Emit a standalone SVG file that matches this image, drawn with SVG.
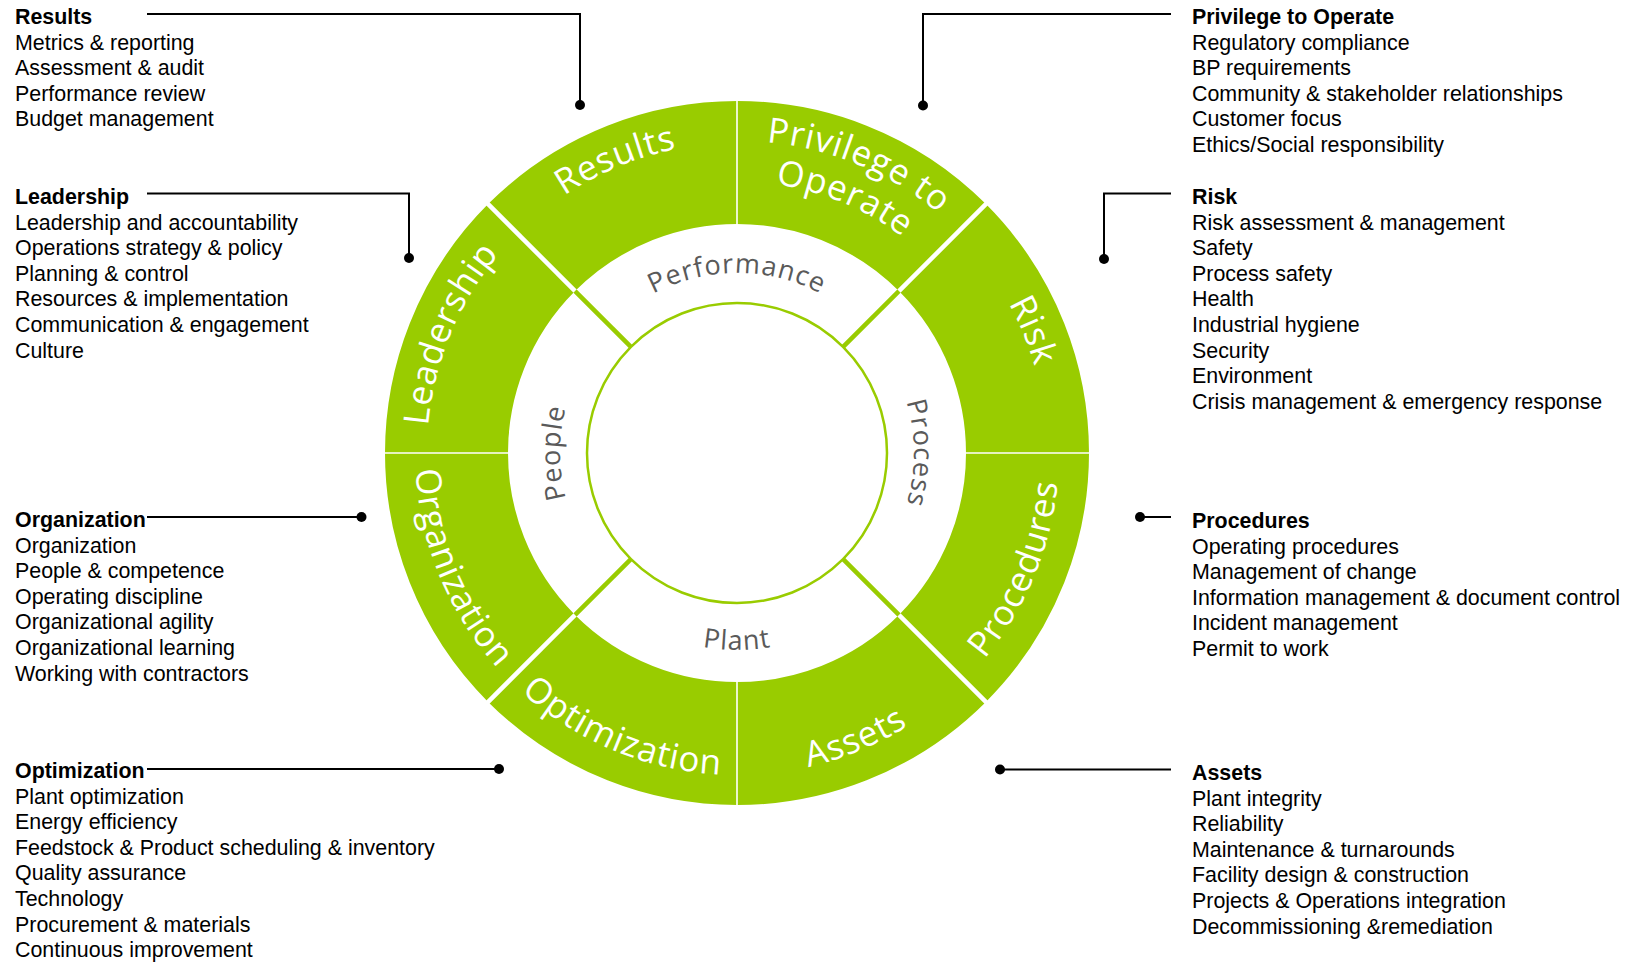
<svg xmlns="http://www.w3.org/2000/svg" width="1639" height="962" viewBox="0 0 1639 962">
<style>
.lst{font-family:"Liberation Sans",Arial,sans-serif;font-size:21.4px;fill:#000}
.ttl{font-weight:bold}
.ring{font-family:"Open Sans","Liberation Sans",sans-serif;font-size:35px;fill:#fff;letter-spacing:0.8px}
.band{font-family:"Open Sans","Liberation Sans",sans-serif;font-size:27px;fill:#5a5a5a;letter-spacing:1px}
.conn{fill:none;stroke:#000;stroke-width:2}
.dot{fill:#000}
.gap{stroke:#fff;stroke-width:4.5}
.thin{stroke:#fff;stroke-width:1.6}
.spoke{stroke:#99cc00;stroke-width:4.5}
</style>
<defs>
<path id="pResults" d="M517.8,233.8 A310,310 0 0 1 737,143"/>
<path id="pPriv1" d="M739,141 A312,312 0 0 1 959.6,232.4"/>
<path id="pPriv2" d="M739,182 A271,271 0 0 1 930.6,261.4"/>
<path id="pRisk" d="M956.2,233.8 A310,310 0 0 1 1047,453"/>
<path id="pLead" d="M427,453 A310,310 0 0 1 517.8,233.8"/>
<path id="pProc" d="M964.7,680.7 A322,322 0 0 0 1059,453"/>
<path id="pAssets" d="M737,775 A322,322 0 0 0 964.7,680.7"/>
<path id="pOpt" d="M509.3,680.7 A322,322 0 0 0 737,775"/>
<path id="pOrg" d="M415,453 A322,322 0 0 0 509.3,680.7"/>
<path id="pPerf" d="M557,453 A180,180 0 0 1 917,453"/>
<path id="pProcess" d="M737,276 A177,177 0 0 1 737,630"/>
<path id="pPeople" d="M737,630 A177,177 0 0 1 737,276"/>
<path id="pPlant" d="M540,453 A197,197 0 0 0 934,453"/>
</defs>
<rect width="1639" height="962" fill="#fff"/>

<g id="wheel">
<circle cx="737" cy="453" r="290.5" fill="none" stroke="#99cc00" stroke-width="123"/>
<line class="thin" x1="737" y1="98" x2="737" y2="226"/>
<line class="thin" x1="737" y1="680" x2="737" y2="808"/>
<line class="thin" x1="382" y1="453" x2="510" y2="453"/>
<line class="thin" x1="964" y1="453" x2="1092" y2="453"/>
<line class="gap" x1="486.9" y1="202.9" x2="575.1" y2="291.1"/>
<line class="gap" x1="987.1" y1="202.9" x2="898.9" y2="291.1"/>
<line class="gap" x1="486.9" y1="703.1" x2="575.1" y2="614.9"/>
<line class="gap" x1="987.1" y1="703.1" x2="898.9" y2="614.9"/>
<line class="spoke" x1="575.1" y1="291.1" x2="630.9" y2="346.9"/>
<line class="spoke" x1="898.9" y1="291.1" x2="843.1" y2="346.9"/>
<line class="spoke" x1="575.1" y1="614.9" x2="630.9" y2="559.1"/>
<line class="spoke" x1="898.9" y1="614.9" x2="843.1" y2="559.1"/>
<circle cx="737" cy="453" r="150" fill="#fff" stroke="#99cc00" stroke-width="2.5"/>
</g>

<g id="seg-results"><text class="ring"><textPath href="#pResults" startOffset="50%" text-anchor="middle">Results</textPath></text></g>
<g id="seg-privilege"><text class="ring"><textPath href="#pPriv1" startOffset="50%" text-anchor="middle">Privilege to</textPath><textPath href="#pPriv2" startOffset="50%" text-anchor="middle">Operate</textPath></text></g>
<g id="seg-risk"><text class="ring"><textPath href="#pRisk" startOffset="50%" text-anchor="middle">Risk</textPath></text></g>
<g id="seg-leadership"><text class="ring"><textPath href="#pLead" startOffset="50%" text-anchor="middle">Leadership</textPath></text></g>
<g id="seg-procedures"><text class="ring"><textPath href="#pProc" startOffset="50%" text-anchor="middle">Procedures</textPath></text></g>
<g id="seg-assets"><text class="ring"><textPath href="#pAssets" startOffset="50%" text-anchor="middle">Assets</textPath></text></g>
<g id="seg-optimization"><text class="ring"><textPath href="#pOpt" startOffset="50%" text-anchor="middle">Optimization</textPath></text></g>
<g id="seg-organization"><text class="ring"><textPath href="#pOrg" startOffset="50%" text-anchor="middle">Organization</textPath></text></g>

<g id="band-performance"><text class="band"><textPath href="#pPerf" startOffset="50%" text-anchor="middle">Performance</textPath></text></g>
<g id="band-process"><text class="band"><textPath href="#pProcess" startOffset="50%" text-anchor="middle">Process</textPath></text></g>
<g id="band-people"><text class="band"><textPath href="#pPeople" startOffset="50%" text-anchor="middle">People</textPath></text></g>
<g id="band-plant"><text class="band"><textPath href="#pPlant" startOffset="50%" text-anchor="middle">Plant</textPath></text></g>

<g id="connectors">
<path class="conn" d="M147,14 H580 V105"/><circle class="dot" cx="580" cy="105" r="5"/>
<path class="conn" d="M147,193.5 H409 V258"/><circle class="dot" cx="409" cy="258" r="5"/>
<path class="conn" d="M147,517 H361.5"/><circle class="dot" cx="361.5" cy="517" r="5"/>
<path class="conn" d="M147,769 H499"/><circle class="dot" cx="499" cy="769" r="5"/>
<path class="conn" d="M1171,14 H923 V105.5"/><circle class="dot" cx="923" cy="105.5" r="5"/>
<path class="conn" d="M1171,193.5 H1104 V259"/><circle class="dot" cx="1104" cy="259" r="5"/>
<path class="conn" d="M1171,517 H1140"/><circle class="dot" cx="1140" cy="517" r="5"/>
<path class="conn" d="M1171,769.5 H1000"/><circle class="dot" cx="1000" cy="769.5" r="5"/>
</g>

<g id="list-results"><text class="lst" x="15" y="24"><tspan class="ttl" x="15">Results</tspan><tspan x="15" dy="25.6">Metrics &amp; reporting</tspan><tspan x="15" dy="25.6">Assessment &amp; audit</tspan><tspan x="15" dy="25.6">Performance review</tspan><tspan x="15" dy="25.6">Budget management</tspan></text></g>
<g id="list-leadership"><text class="lst" x="15" y="204"><tspan class="ttl" x="15">Leadership</tspan><tspan x="15" dy="25.6">Leadership and accountability</tspan><tspan x="15" dy="25.6">Operations strategy &amp; policy</tspan><tspan x="15" dy="25.6">Planning &amp; control</tspan><tspan x="15" dy="25.6">Resources &amp; implementation</tspan><tspan x="15" dy="25.6">Communication &amp; engagement</tspan><tspan x="15" dy="25.6">Culture</tspan></text></g>
<g id="list-organization"><text class="lst" x="15" y="527"><tspan class="ttl" x="15">Organization</tspan><tspan x="15" dy="25.6">Organization</tspan><tspan x="15" dy="25.6">People &amp; competence</tspan><tspan x="15" dy="25.6">Operating discipline</tspan><tspan x="15" dy="25.6">Organizational agility</tspan><tspan x="15" dy="25.6">Organizational learning</tspan><tspan x="15" dy="25.6">Working with contractors</tspan></text></g>
<g id="list-optimization"><text class="lst" x="15" y="778"><tspan class="ttl" x="15">Optimization</tspan><tspan x="15" dy="25.6">Plant optimization</tspan><tspan x="15" dy="25.6">Energy efficiency</tspan><tspan x="15" dy="25.6">Feedstock &amp; Product scheduling &amp; inventory</tspan><tspan x="15" dy="25.6">Quality assurance</tspan><tspan x="15" dy="25.6">Technology</tspan><tspan x="15" dy="25.6">Procurement &amp; materials</tspan><tspan x="15" dy="25.6">Continuous improvement</tspan></text></g>
<g id="list-privilege"><text class="lst" x="1192" y="24"><tspan class="ttl" x="1192">Privilege to Operate</tspan><tspan x="1192" dy="25.6">Regulatory compliance</tspan><tspan x="1192" dy="25.6">BP requirements</tspan><tspan x="1192" dy="25.6">Community &amp; stakeholder relationships</tspan><tspan x="1192" dy="25.6">Customer focus</tspan><tspan x="1192" dy="25.6">Ethics/Social responsibility</tspan></text></g>
<g id="list-risk"><text class="lst" x="1192" y="204"><tspan class="ttl" x="1192">Risk</tspan><tspan x="1192" dy="25.6">Risk assessment &amp; management</tspan><tspan x="1192" dy="25.6">Safety</tspan><tspan x="1192" dy="25.6">Process safety</tspan><tspan x="1192" dy="25.6">Health</tspan><tspan x="1192" dy="25.6">Industrial hygiene</tspan><tspan x="1192" dy="25.6">Security</tspan><tspan x="1192" dy="25.6">Environment</tspan><tspan x="1192" dy="25.6">Crisis management &amp; emergency response</tspan></text></g>
<g id="list-procedures"><text class="lst" x="1192" y="528"><tspan class="ttl" x="1192">Procedures</tspan><tspan x="1192" dy="25.6">Operating procedures</tspan><tspan x="1192" dy="25.6">Management of change</tspan><tspan x="1192" dy="25.6">Information management &amp; document control</tspan><tspan x="1192" dy="25.6">Incident management</tspan><tspan x="1192" dy="25.6">Permit to work</tspan></text></g>
<g id="list-assets"><text class="lst" x="1192" y="780"><tspan class="ttl" x="1192">Assets</tspan><tspan x="1192" dy="25.6">Plant integrity</tspan><tspan x="1192" dy="25.6">Reliability</tspan><tspan x="1192" dy="25.6">Maintenance &amp; turnarounds</tspan><tspan x="1192" dy="25.6">Facility design &amp; construction</tspan><tspan x="1192" dy="25.6">Projects &amp; Operations integration</tspan><tspan x="1192" dy="25.6">Decommissioning &amp;remediation</tspan></text></g>
</svg>
